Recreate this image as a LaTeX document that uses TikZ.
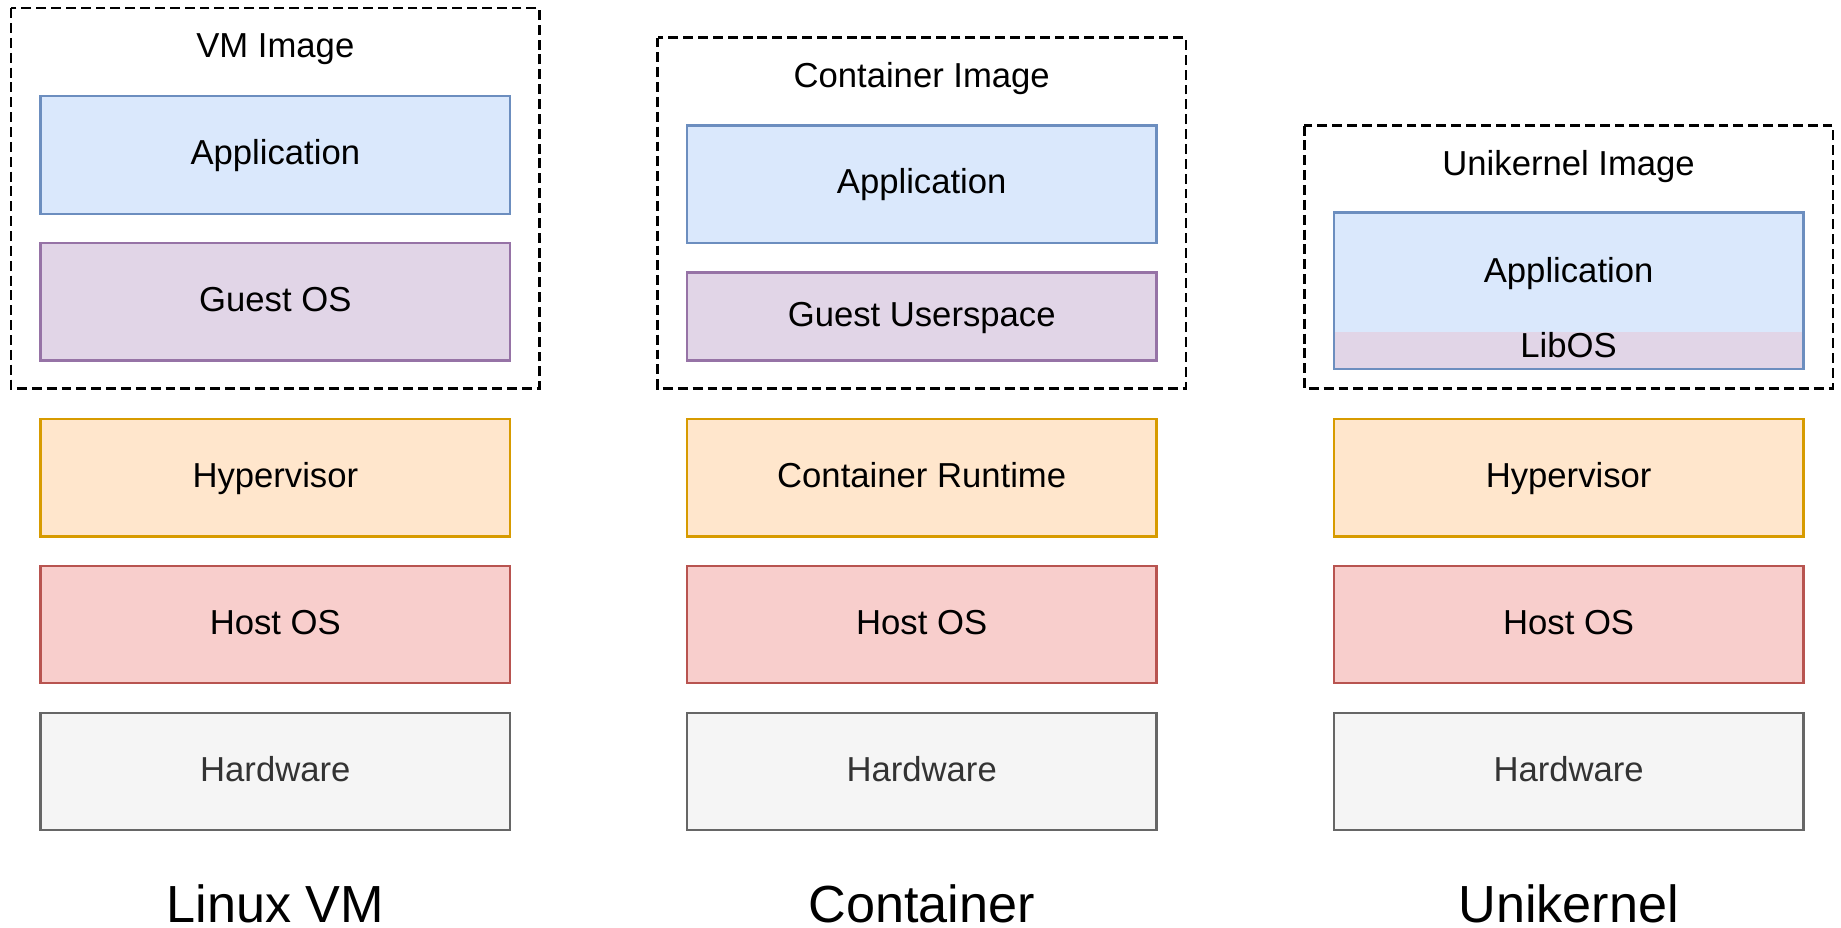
\documentclass[tikz,border=0pt]{standalone}
\usepackage{fontspec}
\setmainfont{Liberation Sans}
\usetikzlibrary{positioning, calc}

\definecolor{appfill}{HTML}{DAE8FC}
\definecolor{appline}{HTML}{6C8EBF}
\definecolor{guestfill}{HTML}{E1D5E7}
\definecolor{guestline}{HTML}{9673A6}
\definecolor{hypfill}{HTML}{FFE6CC}
\definecolor{hypline}{HTML}{D79B00}
\definecolor{hostfill}{HTML}{F8CECC}
\definecolor{hostline}{HTML}{B85450}
\definecolor{hwfill}{HTML}{F5F5F5}
\definecolor{hwline}{HTML}{666666}
\definecolor{hwtext}{HTML}{333333}

\begin{document}
\begin{tikzpicture}[
    node distance=0.5cm,
    layer/.style={rectangle, draw, line width=1.1pt, minimum width=8cm, minimum height=2cm, inner sep=0pt, outer sep=0pt, text height=2ex, text depth=0.23ex, font=\fontsize{16.8}{20}\selectfont},
    app layer/.style={layer, draw=appline, fill=appfill},
    guest layer/.style={layer, draw=guestline, fill=guestfill},
    hyp layer/.style={layer, draw=hypline, fill=hypfill},
    host layer/.style={layer, draw=hostline, fill=hostfill},
    hw layer/.style={layer, draw=hwline, fill=hwfill, text=hwtext},
    image frame/.style={draw, dash pattern=on 4.8pt off 2.4pt, line width=1.1pt},
    image title/.style={inner sep=0pt, text height=2ex, text depth=0.23ex, font=\fontsize{16.8}{20}\selectfont},
    caption/.style={inner sep=0pt, font=\fontsize{25.3}{30}\selectfont}
]
    \useasboundingbox (0,0) rectangle (31.36,-15.8);

    % Linux VM stack
    \node (hw1) [hw layer] at (4.69,-13.14) {Hardware};
    \node (host1) [host layer, above=of hw1] {Host OS};
    \node (hyp1) [hyp layer, above=of host1] {Hypervisor};
    \node (guest1) [guest layer, above=1cm of hyp1] {Guest OS};
    \node (app1) [app layer, above=of guest1] {Application};
    \node (title1) [image title] at ($(app1.north)+(0,0.82)$) {VM Image};
    \draw[image frame] ($(app1.north west)+(-0.5,1.5)$) rectangle ($(guest1.south east)+(0.5,-0.48)$);
    \node (cap1) [caption] at ($(hw1.south)+(0,-1.26)$) {Linux VM};

    % Container stack
    \node (hw2) [hw layer] at (15.7,-13.14) {Hardware};
    \node (host2) [host layer, above=of hw2] {Host OS};
    \node (rt2) [hyp layer, above=of host2] {Container Runtime};
    \node (guest2) [guest layer, above=1cm of rt2, minimum height=1.5cm] {Guest Userspace};
    \node (app2) [app layer, above=of guest2] {Application};
    \node (title2) [image title] at ($(app2.north)+(0,0.82)$) {Container Image};
    \draw[image frame] ($(app2.north west)+(-0.5,1.5)$) rectangle ($(guest2.south east)+(0.5,-0.48)$);
    \node (cap2) [caption] at ($(hw2.south)+(0,-1.26)$) {Container};

    % Unikernel stack
    \node (hw3) [hw layer] at (26.72,-13.14) {Hardware};
    \node (host3) [host layer, above=of hw3] {Host OS};
    \node (hyp3) [hyp layer, above=of host3] {Hypervisor};
    \node (app3) [app layer, draw=none, above=1.48cm of hyp3, minimum height=2.04cm] {Application};
    \node (libos3) [guest layer, draw=none, below=0pt of app3, minimum height=0.62cm, text height=1.5ex, text depth=0.25ex] {LibOS};
    \draw[appline, line width=1.1pt] (app3.north west) rectangle (libos3.south east);
    \node (title3) [image title] at ($(app3.north)+(0,0.8)$) {Unikernel Image};
    \draw[image frame] ($(app3.north west)+(-0.5,1.48)$) rectangle ($(libos3.south east)+(0.5,-0.34)$);
    \node (cap3) [caption] at ($(hw3.south)+(0,-1.26)$) {Unikernel};
\end{tikzpicture}
\end{document}
